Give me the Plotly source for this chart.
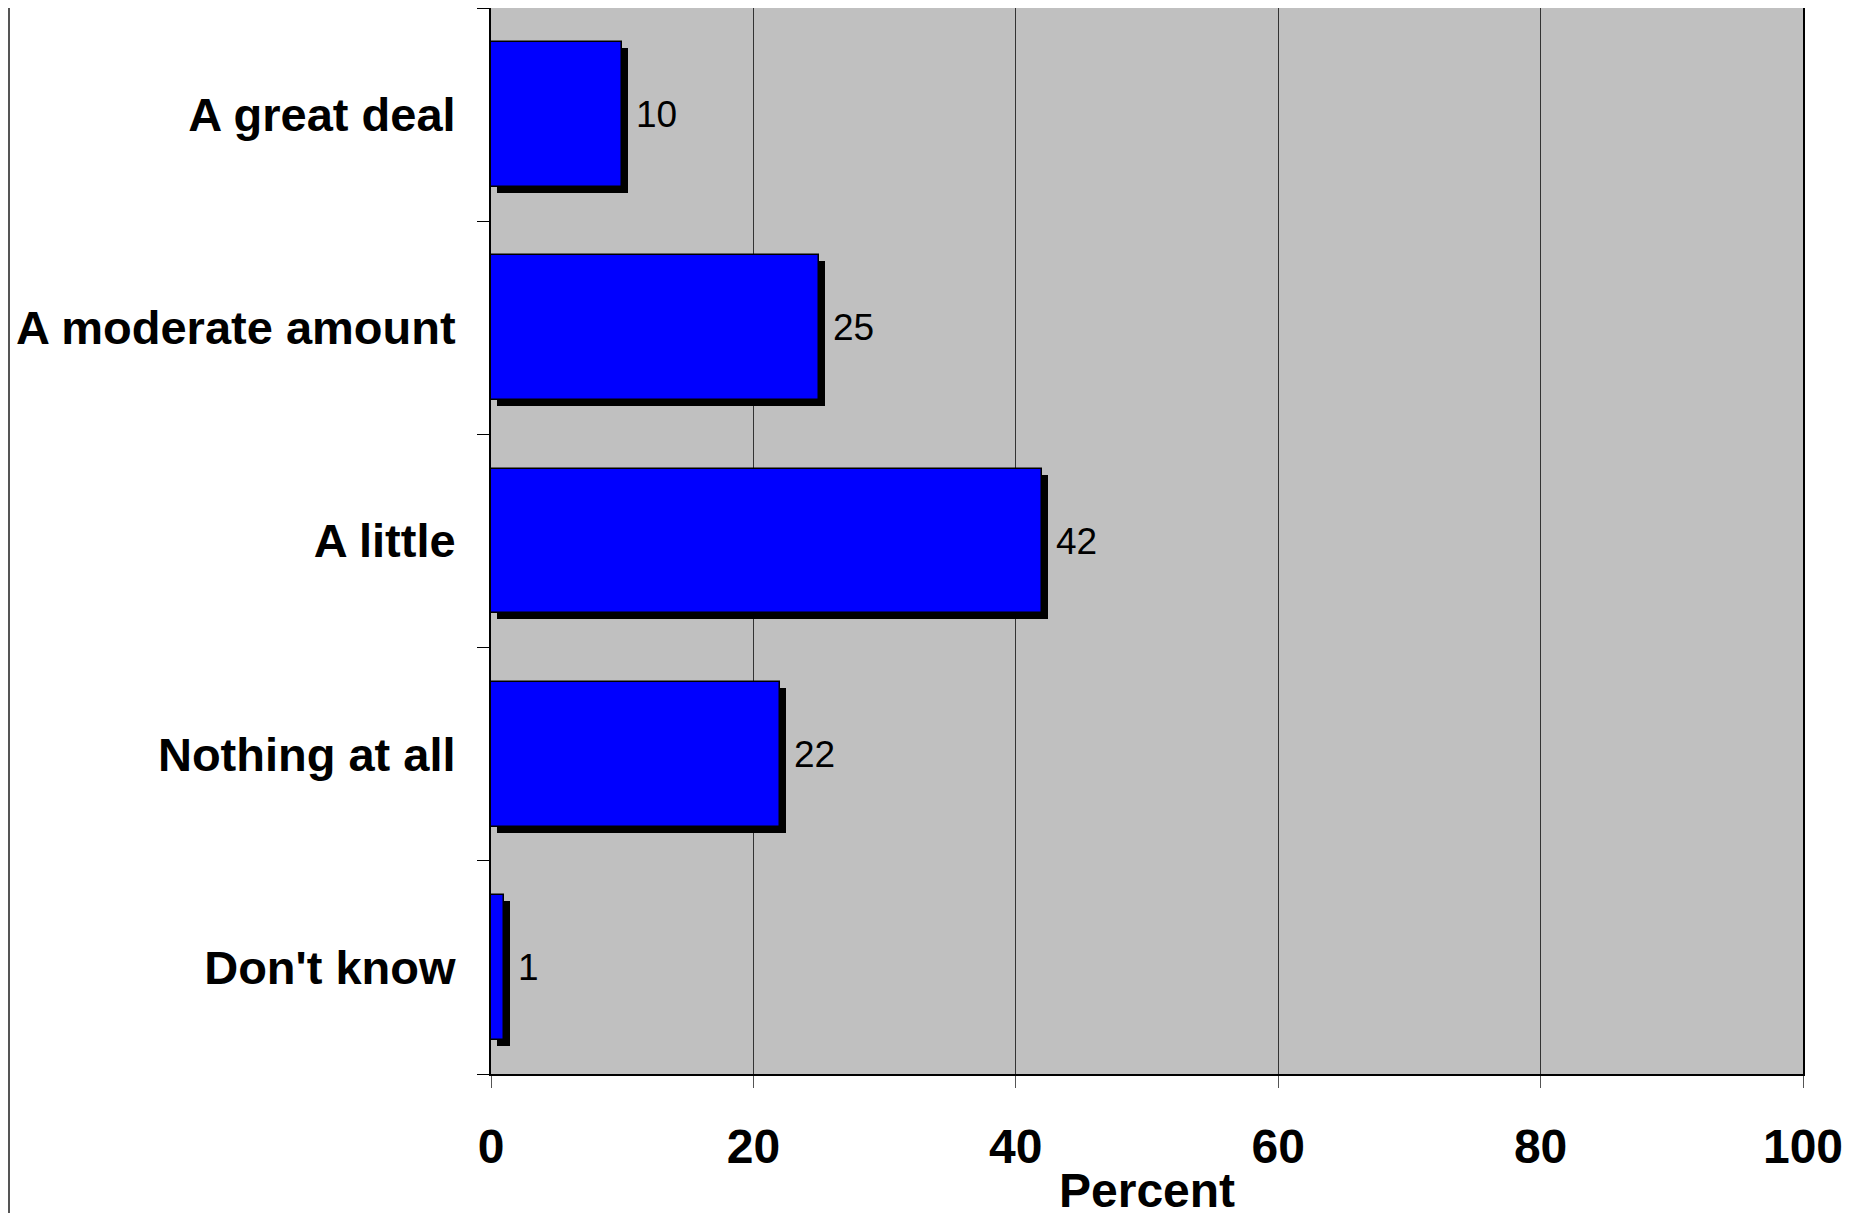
import plotly.graph_objects as go

categories = ["A great deal", "A moderate amount", "A little", "Nothing at all", "Don't know"]
values = [10, 25, 42, 22, 1]
x_ticks = [0, 20, 40, 60, 80, 100]

# the page body adds an 8px offset, so the figure is sized to fit inside it
W, H = 1862, 1205
L, T = 483, 0
pw, ph = 1312, 1066
R, B = W - L - pw, H - T - ph

FONT = "Arial, Liberation Sans, sans-serif"
BAR_W = 0.68
SHADOW_PX = 6
x_per_px = 100 / pw
y_per_px = len(categories) / ph

fig = go.Figure()

# shadow
fig.add_trace(go.Bar(
    x=values, y=categories, orientation="h",
    base=SHADOW_PX * x_per_px,
    width=BAR_W, offset=-BAR_W / 2 + SHADOW_PX * y_per_px,
    marker=dict(color="black", line=dict(width=0)),
    hoverinfo="skip", showlegend=False,
))
# main bars
fig.add_trace(go.Bar(
    x=values, y=categories, orientation="h",
    width=BAR_W, offset=-BAR_W / 2,
    marker=dict(color="#0000FF", line=dict(color="black", width=1.5)),
    showlegend=False,
))

for c, v in zip(categories, values):
    fig.add_annotation(
        x=v, y=c, xref="x", yref="y", text=str(v), showarrow=False,
        xanchor="left", yanchor="middle", xshift=12,
        font=dict(family=FONT, size=37, color="black"),
    )

fig.add_annotation(
    x=0.5, y=0, xref="paper", yref="paper", text="<b>Percent</b>", showarrow=False,
    xanchor="center", yanchor="top", yshift=-88,
    font=dict(family=FONT, size=48, color="black"),
)

# left border of the chart area
fig.add_shape(
    type="line", xref="paper", yref="paper",
    x0=(1 - L) / pw, x1=(1 - L) / pw,
    y0=(T + ph) / ph, y1=(T + ph - H) / ph,
    line=dict(color="#555555", width=2),
)

fig.update_layout(
    width=W, height=H,
    margin=dict(l=L, r=R, t=T, b=B, autoexpand=False),
    paper_bgcolor="white", plot_bgcolor="#C0C0C0",
    barmode="overlay", bargap=0,
    font=dict(family=FONT, color="black"),
)
fig.update_xaxes(
    range=[0, 100], tickvals=x_ticks, ticktext=[f"<b>{t}</b>" for t in x_ticks],
    tickfont=dict(family=FONT, size=48, color="black"),
    showgrid=True, gridcolor="#333333", gridwidth=1,
    showline=True, linecolor="black", linewidth=2, mirror=True,
    ticks="outside", ticklen=12, tickcolor="#555555", tickwidth=1,
    ticklabelstandoff=17, zeroline=False,
)
fig.update_yaxes(
    categoryorder="array", categoryarray=categories, autorange="reversed",
    range=[len(categories) - 0.5, -0.5],
    tickvals=categories, ticktext=[f"<b>{c}</b>" for c in categories],
    tickfont=dict(family=FONT, size=47, color="black"),
    showgrid=False, tickson="boundaries",
    showline=True, linecolor="black", linewidth=2, mirror=True,
    ticks="outside", ticklen=12, tickcolor="black", tickwidth=1,
    ticklabelstandoff=24,
)

fig.write_html("out.html")
